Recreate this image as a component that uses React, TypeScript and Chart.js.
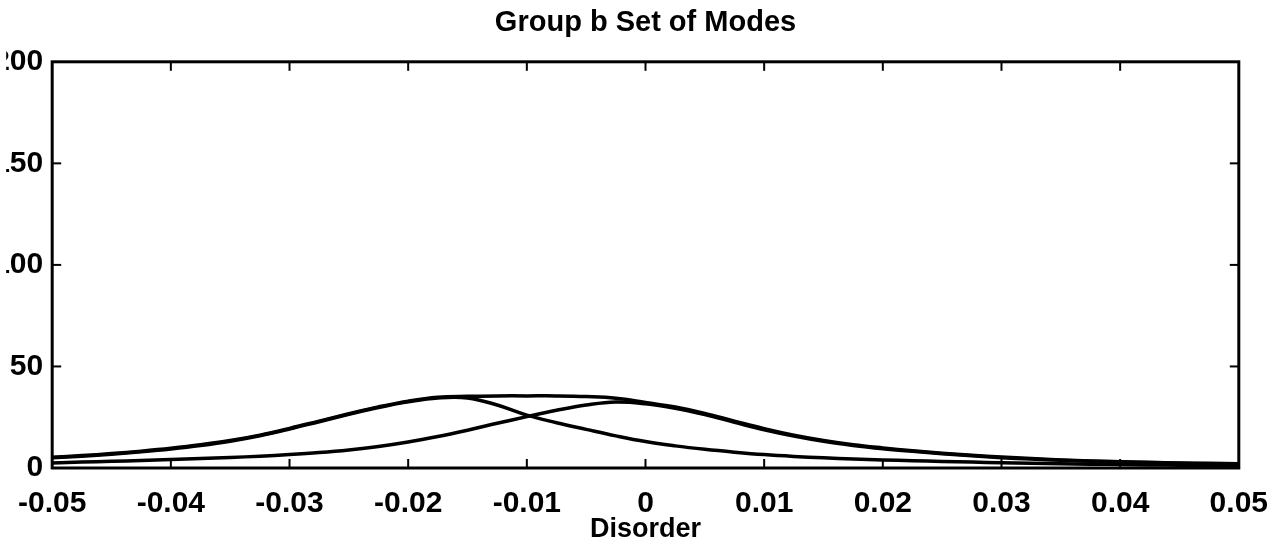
import React, { useEffect, useRef } from "react";
import { Chart, registerables } from "chart.js";

Chart.register(...registerables);

const disorder = [
  -0.05, -0.0475, -0.045, -0.0425, -0.04, -0.0375, -0.035, -0.0325, -0.03, -0.0275,
  -0.025, -0.0225, -0.02, -0.0175, -0.015, -0.0125, -0.01, -0.0075, -0.005, -0.0025,
  0, 0.0025, 0.005, 0.0075, 0.01, 0.0125, 0.015, 0.0175, 0.02, 0.0225,
  0.025, 0.0275, 0.03, 0.0325, 0.035, 0.0375, 0.04, 0.0425, 0.045, 0.0475, 0.05,
];

const modeA = [
  5, 5.8, 6.8, 8, 9.4, 11.1, 13.2, 15.9, 19.2, 22.8,
  26.4, 29.8, 32.6, 34.5, 34.5, 31, 26, 22.3, 19, 15.8,
  13, 10.9, 9.2, 7.8, 6.6, 5.7, 5, 4.4, 4, 3.6,
  3.2, 2.9, 2.6, 2.3, 2.1, 1.9, 1.7, 1.5, 1.4, 1.2, 1.1,
];

const modeB = [
  2.5, 2.9, 3.3, 3.7, 4.2, 4.7, 5.2, 5.8, 6.6, 7.6,
  8.9, 10.6, 12.8, 15.5, 18.6, 22, 25.3, 28.4, 31, 32.5,
  31.6, 29.4, 26.3, 22.5, 18.8, 15.7, 13.1, 11.1, 9.5, 8.2,
  7, 6, 5.1, 4.4, 3.8, 3.3, 2.9, 2.6, 2.3, 2.1, 1.9,
];

const modeSet = [
  5.3, 6.1, 7.1, 8.3, 9.7, 11.4, 13.5, 16.2, 19.5, 23.1,
  26.7, 30.1, 32.9, 34.8, 35.3, 35.5, 35.5, 35.5, 35.2, 34.4,
  32.3, 30, 26.9, 23.1, 19.4, 16.2, 13.6, 11.5, 9.9, 8.5,
  7.3, 6.3, 5.4, 4.7, 4, 3.5, 3.1, 2.8, 2.5, 2.3, 2.1,
];

const xTickValues = [-0.05, -0.04, -0.03, -0.02, -0.01, 0, 0.01, 0.02, 0.03, 0.04, 0.05];
const xTickLabels = ["-0.05", "-0.04", "-0.03", "-0.02", "-0.01", "0", "0.01", "0.02", "0.03", "0.04", "0.05"];
const yTickValues = [0, 50, 100, 150, 200];

const TITLE = "Group b Set of Modes";
const X_TITLE = "Disorder";

const frame = {
  id: "frame",
  afterDatasetsDraw(chart: any) {
    const { ctx, chartArea: a, scales } = chart;
    const x = scales.x;
    const y = scales.y;
    ctx.save();
    ctx.strokeStyle = "#000";
    ctx.lineWidth = 3;
    ctx.strokeRect(a.left, a.top, a.right - a.left, a.bottom - a.top);
    ctx.lineWidth = 2;
    const L = 9;
    const seg = (x1: number, y1: number, x2: number, y2: number) => {
      ctx.beginPath();
      ctx.moveTo(x1, y1);
      ctx.lineTo(x2, y2);
      ctx.stroke();
    };
    xTickValues.forEach((v, i) => {
      if (i === 0 || i === xTickValues.length - 1) return;
      const px = x.getPixelForValue(v);
      seg(px, a.bottom, px, a.bottom - L);
      seg(px, a.top, px, a.top + L);
    });
    yTickValues.forEach((v, i) => {
      if (i === 0 || i === yTickValues.length - 1) return;
      const py = y.getPixelForValue(v);
      seg(a.left, py, a.left + L, py);
      seg(a.right, py, a.right - L, py);
    });
    ctx.restore();
  },
};

export default function App() {
  const ref = useRef<HTMLCanvasElement | null>(null);

  useEffect(() => {
    if (!ref.current) return;
    const mk = (vals: number[]) => disorder.map((d, i) => ({ x: d, y: vals[i] }));
    const lineStyle = {
      borderColor: "#000",
      borderWidth: 3.5,
      pointRadius: 0,
      fill: false,
      tension: 0.4,
    };
    const chart = new Chart(ref.current, {
      type: "line",
      data: {
        datasets: [
          { label: "Mode 1", data: mk(modeA), ...lineStyle },
          { label: "Mode 2", data: mk(modeB), ...lineStyle },
          { label: "Set of modes", data: mk(modeSet), ...lineStyle },
        ],
      },
      options: {
        responsive: false,
        animation: false,
        layout: { padding: { left: 0, right: 42, top: 0, bottom: 0 } },
        plugins: {
          legend: { display: false },
          tooltip: { enabled: false },
          title: {
            display: true,
            text: TITLE,
            fullSize: false,
            color: "#000",
            font: { family: "'Liberation Sans', Arial, sans-serif", size: 29, weight: "bold" },
            padding: { top: 6, bottom: 21 },
          },
        },
        scales: {
          x: {
            type: "linear",
            min: -0.05,
            max: 0.05,
            grid: { display: false, drawTicks: false },
            border: { display: false },
            afterBuildTicks: (s: any) => {
              s.ticks = xTickValues.map((v) => ({ value: v }));
            },
            afterFit: (s: any) => {
              s.height = 86;
            },
            ticks: {
              autoSkip: false,
              maxRotation: 0,
              padding: 18,
              color: "#000",
              font: { family: "'Liberation Sans', Arial, sans-serif", size: 30, weight: "bold" },
              callback: (_v: any, i: number) => xTickLabels[i],
            },
            title: {
              display: true,
              text: X_TITLE,
              color: "#000",
              font: { family: "'Liberation Sans', Arial, sans-serif", size: 27, weight: "bold" },
              padding: { top: 0, bottom: 8 },
            },
          },
          y: {
            type: "linear",
            min: 0,
            max: 200,
            grid: { display: false, drawTicks: false },
            border: { display: false },
            afterBuildTicks: (s: any) => {
              s.ticks = yTickValues.map((v) => ({ value: v }));
            },
            afterFit: (s: any) => {
              s.width = 46;
            },
            ticks: {
              padding: 9,
              color: "#000",
              font: { family: "'Liberation Sans', Arial, sans-serif", size: 30, weight: "bold" },
              callback: (v: any) => String(v),
            },
          },
        },
      },
      plugins: [frame],
    });
    return () => chart.destroy();
  }, []);

  return (
    <div style={{ position: "fixed", left: 0, top: 0, width: 1286, height: 554, background: "#fff" }}>
      <canvas ref={ref} width={1286} height={554} />
    </div>
  );
}
